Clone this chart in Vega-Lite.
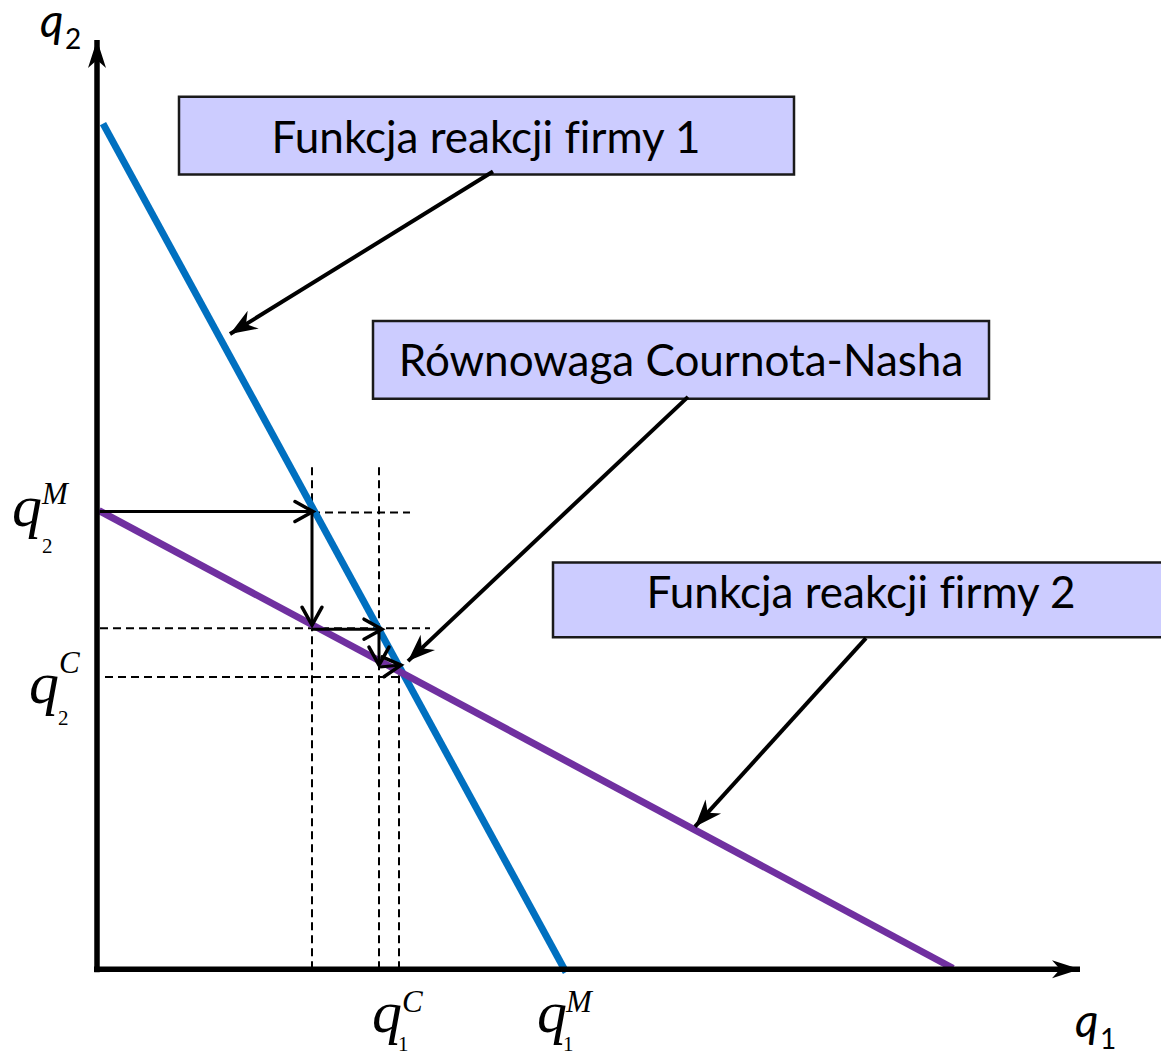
{
  "$schema": "https://vega.github.io/schema/vega-lite/v6.json",
  "width": 1161,
  "height": 1055,
  "autosize": {"type": "fit", "contains": "padding"},
  "padding": 0,
  "background": "white",
  "config": {"view": {"stroke": null}},
  "datasets": {
    "boxes": [
      {"label": "Funkcja reakcji firmy 1", "x": 82, "x2": 697, "y": 797, "y2": 875},
      {"label": "Równowaga Cournota-Nasha", "x": 276, "x2": 892, "y": 572, "y2": 650},
      {"label": "Funkcja reakcji firmy 2", "x": 456, "x2": 1075, "y": 333, "y2": 408}
    ],
    "boxText": [
      {"label": "Funkcja reakcji f\u200cirmy 1", "x": 389, "y": 819},
      {"label": "Równowaga Cournota-Nasha", "x": 584, "y": 595},
      {"label": "Funkcja reakcji f\u200cirmy 2", "x": 764, "y": 362}
    ],
    "reaction": [
      {"series": "firma 1", "x": 6, "y": 848, "x2": 469, "y2": -3},
      {"series": "firma 2", "x": 2, "y": 460, "x2": 856, "y2": 1}
    ],
    "guides": [
      {"x": 215, "y": 458, "x2": 313, "y2": 458},
      {"x": 3, "y": 342, "x2": 333, "y2": 342},
      {"x": 8, "y": 293, "x2": 303, "y2": 293},
      {"x": 215, "y": 0, "x2": 215, "y2": 507},
      {"x": 282, "y": 0, "x2": 282, "y2": 507},
      {"x": 302, "y": 0, "x2": 302, "y2": 302}
    ],
    "steps": [
      {"x": 3, "y": 459, "x2": 216, "y2": 459},
      {"x": 215, "y": 459, "x2": 215, "y2": 345},
      {"x": 215, "y": 341, "x2": 285, "y2": 341},
      {"x": 282, "y": 341, "x2": 282, "y2": 305},
      {"x": 283, "y": 303, "x2": 304, "y2": 305}
    ],
    "pointers": [
      {"x": 396, "y": 800, "x2": 133, "y2": 637},
      {"x": 591, "y": 574, "x2": 311, "y2": 309},
      {"x": 769, "y": 332, "x2": 598, "y2": 143}
    ],
    "axes": [
      {"x": 0, "y": -3, "x2": 0, "y2": 932},
      {"x": -3, "y": 0, "x2": 983, "y2": 0}
    ],
    "sansMain": [
      {"t": "q", "x": -57, "y": 935},
      {"t": "q", "x": 978, "y": -68}
    ],
    "sansSub": [
      {"t": "2", "x": -32, "y": 923},
      {"t": "1", "x": 1003, "y": -80}
    ],
    "serifMain": [
      {"t": "q", "x": -85, "y": 444},
      {"t": "q", "x": -68, "y": 267},
      {"t": "q", "x": 275, "y": -63},
      {"t": "q", "x": 440, "y": -63}
    ],
    "serifSup": [
      {"t": "M", "x": -55, "y": 467},
      {"t": "C", "x": -38, "y": 297},
      {"t": "C", "x": 305, "y": -43},
      {"t": "M", "x": 469, "y": -43}
    ],
    "serifSub": [
      {"t": "2", "x": -55, "y": 417},
      {"t": "2", "x": -39, "y": 245},
      {"t": "1", "x": 301, "y": -82},
      {"t": "1", "x": 466, "y": -82}
    ]
  },
  "layer": [
    {
      "data": {"name": "boxes"},
      "mark": {"type": "rect", "fill": "#CCCCFF", "stroke": "#1a1a1a", "strokeWidth": 2.5, "clip": true},
      "encoding": {
        "x": {"field": "x", "type": "quantitative", "scale": {"domain": [-97, 1064], "nice": false, "zero": false}, "axis": null},
        "x2": {"field": "x2"},
        "y": {"field": "y", "type": "quantitative", "scale": {"domain": [-83, 972], "nice": false, "zero": false}, "axis": null},
        "y2": {"field": "y2"}
      }
    },
    {
      "data": {"name": "boxText"},
      "mark": {"type": "text", "font": "Lato", "fontSize": 44, "align": "center", "baseline": "alphabetic", "color": "black"},
      "encoding": {
        "x": {"field": "x", "type": "quantitative", "scale": {"domain": [-97, 1064], "nice": false, "zero": false}, "axis": null},
        "y": {"field": "y", "type": "quantitative", "scale": {"domain": [-83, 972], "nice": false, "zero": false}, "axis": null},
        "text": {"field": "label"}
      }
    },
    {
      "data": {"name": "guides"},
      "mark": {"type": "rule", "color": "black", "strokeWidth": 2, "strokeDash": [8, 5]},
      "encoding": {
        "x": {"field": "x", "type": "quantitative", "scale": {"domain": [-97, 1064], "nice": false, "zero": false}, "axis": null},
        "x2": {"field": "x2"},
        "y": {"field": "y", "type": "quantitative", "scale": {"domain": [-83, 972], "nice": false, "zero": false}, "axis": null},
        "y2": {"field": "y2"}
      }
    },
    {
      "data": {"name": "reaction"},
      "mark": {"type": "rule", "strokeWidth": 7, "strokeCap": "butt"},
      "encoding": {
        "x": {"field": "x", "type": "quantitative", "scale": {"domain": [-97, 1064], "nice": false, "zero": false}, "axis": null},
        "x2": {"field": "x2"},
        "y": {"field": "y", "type": "quantitative", "scale": {"domain": [-83, 972], "nice": false, "zero": false}, "axis": null},
        "y2": {"field": "y2"},
        "color": {"field": "series", "type": "nominal", "scale": {"domain": ["firma 1", "firma 2"], "range": ["#0070C0", "#7030A0"]}, "legend": null}
      }
    },
    {
      "data": {"name": "steps"},
      "mark": {"type": "rule", "color": "black", "strokeWidth": 3},
      "encoding": {
        "x": {"field": "x", "type": "quantitative", "scale": {"domain": [-97, 1064], "nice": false, "zero": false}, "axis": null},
        "x2": {"field": "x2"},
        "y": {"field": "y", "type": "quantitative", "scale": {"domain": [-83, 972], "nice": false, "zero": false}, "axis": null},
        "y2": {"field": "y2"}
      }
    },
    {
      "data": {"name": "steps"},
      "transform": [{"calculate": "atan2(datum.y - datum.y2, datum.x2 - datum.x) * 180 / PI", "as": "ang"}],
      "mark": {"type": "point", "shape": "M-1.8,-1L0,0L-1.8,1", "filled": false, "size": 400, "stroke": "black", "strokeWidth": 3.5, "opacity": 1, "strokeCap": "round", "strokeJoin": "miter"},
      "encoding": {
        "x": {"field": "x2", "type": "quantitative", "scale": {"domain": [-97, 1064], "nice": false, "zero": false}, "axis": null},
        "y": {"field": "y2", "type": "quantitative", "scale": {"domain": [-83, 972], "nice": false, "zero": false}, "axis": null},
        "angle": {"field": "ang", "type": "quantitative", "scale": null}
      }
    },
    {
      "data": {"name": "pointers"},
      "mark": {"type": "rule", "color": "black", "strokeWidth": 4},
      "encoding": {
        "x": {"field": "x", "type": "quantitative", "scale": {"domain": [-97, 1064], "nice": false, "zero": false}, "axis": null},
        "x2": {"field": "x2"},
        "y": {"field": "y", "type": "quantitative", "scale": {"domain": [-83, 972], "nice": false, "zero": false}, "axis": null},
        "y2": {"field": "y2"}
      }
    },
    {
      "data": {"name": "pointers"},
      "transform": [{"calculate": "atan2(datum.y - datum.y2, datum.x2 - datum.x) * 180 / PI", "as": "ang"}],
      "mark": {"type": "point", "shape": "M0,0L-2.6,-1L-1.8,0L-2.6,1Z", "filled": true, "size": 440, "color": "black", "opacity": 1, "strokeWidth": 0},
      "encoding": {
        "x": {"field": "x2", "type": "quantitative", "scale": {"domain": [-97, 1064], "nice": false, "zero": false}, "axis": null},
        "y": {"field": "y2", "type": "quantitative", "scale": {"domain": [-83, 972], "nice": false, "zero": false}, "axis": null},
        "angle": {"field": "ang", "type": "quantitative", "scale": null}
      }
    },
    {
      "data": {"name": "axes"},
      "mark": {"type": "rule", "color": "black", "strokeWidth": 5.5, "strokeCap": "butt"},
      "encoding": {
        "x": {"field": "x", "type": "quantitative", "scale": {"domain": [-97, 1064], "nice": false, "zero": false}, "axis": null},
        "x2": {"field": "x2"},
        "y": {"field": "y", "type": "quantitative", "scale": {"domain": [-83, 972], "nice": false, "zero": false}, "axis": null},
        "y2": {"field": "y2"}
      }
    },
    {
      "data": {"name": "axes"},
      "transform": [{"calculate": "atan2(datum.y - datum.y2, datum.x2 - datum.x) * 180 / PI", "as": "ang"}],
      "mark": {"type": "point", "shape": "M0,0L-2.8,-0.9L-2,0L-2.8,0.9Z", "filled": true, "size": 400, "color": "black", "opacity": 1, "strokeWidth": 0},
      "encoding": {
        "x": {"field": "x2", "type": "quantitative", "scale": {"domain": [-97, 1064], "nice": false, "zero": false}, "axis": null},
        "y": {"field": "y2", "type": "quantitative", "scale": {"domain": [-83, 972], "nice": false, "zero": false}, "axis": null},
        "angle": {"field": "ang", "type": "quantitative", "scale": null}
      }
    },
    {
      "data": {"name": "sansMain"},
      "mark": {"type": "text", "font": "Lato", "fontStyle": "italic", "fontSize": 46, "align": "left", "baseline": "alphabetic", "color": "black"},
      "encoding": {
        "x": {"field": "x", "type": "quantitative", "scale": {"domain": [-97, 1064], "nice": false, "zero": false}, "axis": null},
        "y": {"field": "y", "type": "quantitative", "scale": {"domain": [-83, 972], "nice": false, "zero": false}, "axis": null},
        "text": {"field": "t"}
      }
    },
    {
      "data": {"name": "sansSub"},
      "mark": {"type": "text", "font": "Lato", "fontSize": 28, "align": "left", "baseline": "alphabetic", "color": "black"},
      "encoding": {
        "x": {"field": "x", "type": "quantitative", "scale": {"domain": [-97, 1064], "nice": false, "zero": false}, "axis": null},
        "y": {"field": "y", "type": "quantitative", "scale": {"domain": [-83, 972], "nice": false, "zero": false}, "axis": null},
        "text": {"field": "t"}
      }
    },
    {
      "data": {"name": "serifMain"},
      "mark": {"type": "text", "font": "Liberation Serif", "fontStyle": "italic", "fontSize": 60, "align": "left", "baseline": "alphabetic", "color": "black"},
      "encoding": {
        "x": {"field": "x", "type": "quantitative", "scale": {"domain": [-97, 1064], "nice": false, "zero": false}, "axis": null},
        "y": {"field": "y", "type": "quantitative", "scale": {"domain": [-83, 972], "nice": false, "zero": false}, "axis": null},
        "text": {"field": "t"}
      }
    },
    {
      "data": {"name": "serifSup"},
      "mark": {"type": "text", "font": "Liberation Serif", "fontStyle": "italic", "fontSize": 31, "align": "left", "baseline": "alphabetic", "color": "black"},
      "encoding": {
        "x": {"field": "x", "type": "quantitative", "scale": {"domain": [-97, 1064], "nice": false, "zero": false}, "axis": null},
        "y": {"field": "y", "type": "quantitative", "scale": {"domain": [-83, 972], "nice": false, "zero": false}, "axis": null},
        "text": {"field": "t"}
      }
    },
    {
      "data": {"name": "serifSub"},
      "mark": {"type": "text", "font": "Liberation Serif", "fontSize": 21, "align": "left", "baseline": "alphabetic", "color": "black"},
      "encoding": {
        "x": {"field": "x", "type": "quantitative", "scale": {"domain": [-97, 1064], "nice": false, "zero": false}, "axis": null},
        "y": {"field": "y", "type": "quantitative", "scale": {"domain": [-83, 972], "nice": false, "zero": false}, "axis": null},
        "text": {"field": "t"}
      }
    }
  ]
}
